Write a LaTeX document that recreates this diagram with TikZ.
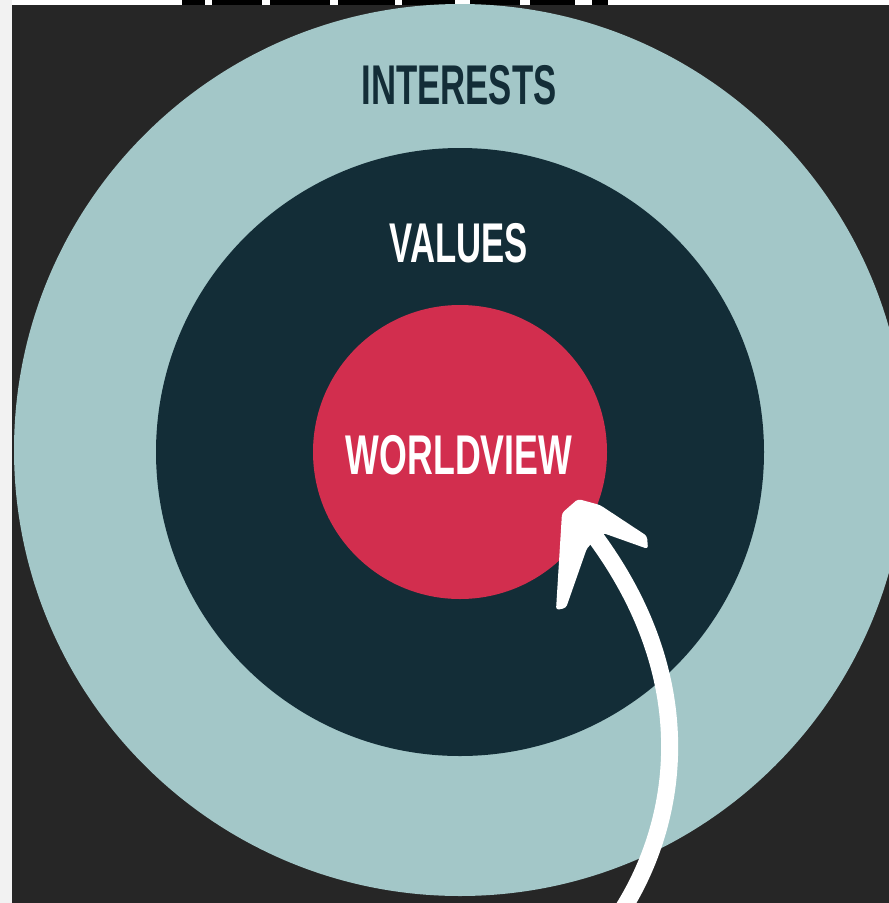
\documentclass[tikz,border=0pt]{standalone}
\usepackage{fontspec}
\setmainfont{Liberation Sans}
\usepackage{tikz}

\definecolor{bgdark}{HTML}{262626}
\definecolor{ringlight}{HTML}{A3C7C8}
\definecolor{ringdark}{HTML}{132D37}
\definecolor{corered}{HTML}{D22E4E}
\definecolor{sidegray}{HTML}{F2F2F2}

\tikzset{
  ring/.style={circle, inner sep=0pt, outer sep=0pt},
  label/.style={font=\bfseries\fontsize{56}{60}\selectfont, xscale=0.62, transform shape, inner sep=0pt}
}

\begin{document}
\begin{tikzpicture}[x=1pt,y=-1pt]
\useasboundingbox (0,0) rectangle (889,903);
\clip (0,0) rectangle (889,903);
% page strips
\fill[sidegray] (0,0) rectangle (12,903);
\fill[white] (12,0) rectangle (889,5);
\fill[black] (182,0) rectangle (205,5);
\fill[black] (212,0) rectangle (262,5);
\fill[black] (270,0) rectangle (330,5);
\fill[black] (338,0) rectangle (395,5);
\fill[black] (402,0) rectangle (455,5);
\fill[black] (470,0) rectangle (520,5);
\fill[black] (530,0) rectangle (575,5);
\fill[black] (592,0) rectangle (608,5);
\fill[bgdark] (12,5) rectangle (889,903);

% rings
\node[ring, fill=ringlight, minimum size=892pt] (interests) at (460,450) {};
\node[ring, fill=ringdark, minimum size=608pt] (values) at (460,452) {};
\node[ring, fill=corered, minimum size=294pt] (worldview) at (460,452) {};

% labels
\node[label, text=ringdark] (interestslbl) at (459,85) {INTERESTS};
\node[label, text=white] (valueslbl) at (459,243) {VALUES};
\node[label, text=white, xscale=1.03] (worldviewlbl) at (459,455) {WORLDVIEW};

% hand drawn arrow
\coordinate (tail) at (621,912);
\coordinate (neck) at (596,538);
\draw[white, line width=17pt, line cap=round]
  (tail) .. controls (680,820) and (700,680) .. (neck);
\fill[white, rounded corners=3pt] (562,513) -- (578,499) -- (600,505) -- (647,536)
  -- (648,549) -- (603,533) -- (587,548) -- (566,608) -- (556,610) -- cycle;
\end{tikzpicture}
\end{document}
